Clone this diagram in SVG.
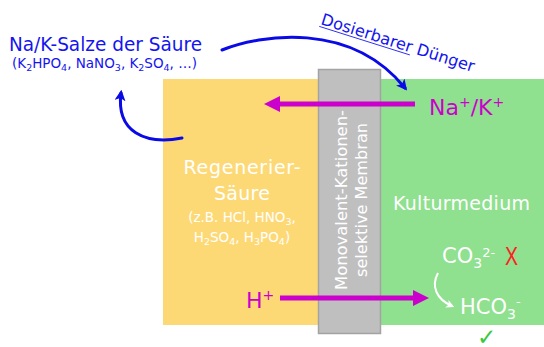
<svg xmlns="http://www.w3.org/2000/svg" width="544" height="347" viewBox="0 0 544 347">
<defs>
<style>
.t{font-family:"DejaVu Sans","Liberation Sans",sans-serif}
.blue{fill:#1414F0}
.wh{fill:#FFFFFF}
.mag{fill:#CC00CC}
.bl{fill:none;stroke:#0A0AE6;stroke-width:3;stroke-linecap:round}
.ml{fill:none;stroke:#CC00CC;stroke-width:5}
</style>
<marker id="ab" viewBox="0 0 10 10" refX="7" refY="5" markerUnits="userSpaceOnUse" markerWidth="11" markerHeight="11" orient="auto">
<path d="M0,0 L10,5 L0,10 L2.5,5 z" fill="#0A0AE6"/>
</marker>
<marker id="am" viewBox="0 0 16 16" refX="0" refY="8" markerUnits="userSpaceOnUse" markerWidth="16" markerHeight="16" orient="auto">
<path d="M0,0 L16,8 L0,16 z" fill="#CC00CC"/>
</marker>
<marker id="aw" viewBox="0 0 10 10" refX="7" refY="5" markerUnits="userSpaceOnUse" markerWidth="8" markerHeight="8" orient="auto">
<path d="M0,0 L10,5 L0,10 L2.5,5 z" fill="#FFFFFF"/>
</marker>
</defs>
<rect width="544" height="347" fill="#FFFFFF"/>

<g id="regeneriersaeure">
<rect x="163" y="79" width="155" height="246" fill="#FDD976"/>
<text class="t wh" x="242" y="174" font-size="19" text-anchor="middle" textLength="117">Regenerier-</text>
<text class="t wh" x="242" y="200" font-size="19" text-anchor="middle" textLength="56">Säure</text>
<text class="t wh" x="242" y="222" font-size="13.5" text-anchor="middle">(z.B. HCl, HNO<tspan font-size="9.5" dy="3">3</tspan><tspan dy="-3">,</tspan></text>
<text class="t wh" x="242" y="242" font-size="13.5" text-anchor="middle">H<tspan font-size="9.5" dy="3">2</tspan><tspan dy="-3">SO</tspan><tspan font-size="9.5" dy="3">4</tspan><tspan dy="-3">, H</tspan><tspan font-size="9.5" dy="3">3</tspan><tspan dy="-3">PO</tspan><tspan font-size="9.5" dy="3">4</tspan><tspan dy="-3">)</tspan></text>
</g>

<g id="kulturmedium">
<rect x="380" y="79" width="164" height="246" fill="#8FE08F"/>
<text class="t wh" x="393" y="210" font-size="19" textLength="137">Kulturmedium</text>
<text class="t wh" x="442" y="263" font-size="21">CO<tspan font-size="14" dy="5">3</tspan><tspan font-size="13" dy="-11">2-</tspan></text>
<text x="505" y="265" font-family="'Liberation Sans',sans-serif" font-size="26" fill="#FF2020" textLength="13" lengthAdjust="spacingAndGlyphs">X</text>
<text class="t wh" x="460" y="314" font-size="21">HCO<tspan font-size="14" dy="5">3</tspan><tspan font-size="13" dy="-13">-</tspan></text>
<text x="477" y="345" font-family="'DejaVu Sans',sans-serif" font-size="23" fill="#3CC83C">✓</text>
</g>

<g id="membran">
<rect x="318.5" y="69.5" width="62" height="264" fill="#BFBFBF" stroke="#A3A3A3" stroke-width="1.5"/>
<text class="t wh" transform="translate(347,200) rotate(-90)" x="0" y="0" font-size="15" text-anchor="middle" textLength="180" lengthAdjust="spacingAndGlyphs">Monovalent-Kationen-</text>
<text class="t wh" transform="translate(367,200) rotate(-90)" x="0" y="0" font-size="15" text-anchor="middle" textLength="154" lengthAdjust="spacingAndGlyphs">selektive Membran</text>
</g>

<g id="salze">
<text class="t blue" x="9" y="51" font-size="19.5" textLength="193" lengthAdjust="spacingAndGlyphs">Na/K-Salze der Säure</text>
<text class="t blue" x="12" y="68" font-size="13.5">(K<tspan font-size="9.5" dy="3">2</tspan><tspan dy="-3">HPO</tspan><tspan font-size="9.5" dy="3">4</tspan><tspan dy="-3">, NaNO</tspan><tspan font-size="9.5" dy="3">3</tspan><tspan dy="-3">, K</tspan><tspan font-size="9.5" dy="3">2</tspan><tspan dy="-3">SO</tspan><tspan font-size="9.5" dy="3">4</tspan><tspan dy="-3">, …)</tspan></text>
</g>

<g id="duenger-label">
<g transform="translate(320,24) rotate(17.5)">
<text class="t blue" x="0" y="0" font-size="16" textLength="160" lengthAdjust="spacingAndGlyphs">Dosierbarer Dünger</text>
<line x1="0" y1="2.5" x2="95" y2="2.5" stroke="#1414F0" stroke-width="0.8"/>
</g>
</g>

<g id="ion-labels">
<text class="t mag" x="429" y="115" font-size="22">Na<tspan font-size="14" dy="-8">+</tspan><tspan dy="8">/K</tspan><tspan font-size="14" dy="-8">+</tspan></text>
<text class="t mag" x="246" y="308" font-size="22">H<tspan font-size="14" dy="-8">+</tspan></text>
</g>

<g id="connectors">
<path class="bl" d="M222,50 C260,35 350,20 405,88" marker-end="url(#ab)"/>
<path class="bl" d="M182,138 C145,145 116,132 121,93" marker-end="url(#ab)"/>
<line class="ml" x1="415" y1="104" x2="280" y2="104" marker-end="url(#am)"/>
<line class="ml" x1="280" y1="298" x2="413" y2="298" marker-end="url(#am)"/>
<path d="M438,273 C431,286 436,299 452,306" fill="none" stroke="#FFFFFF" stroke-width="2" marker-end="url(#aw)"/>
</g>
</svg>
